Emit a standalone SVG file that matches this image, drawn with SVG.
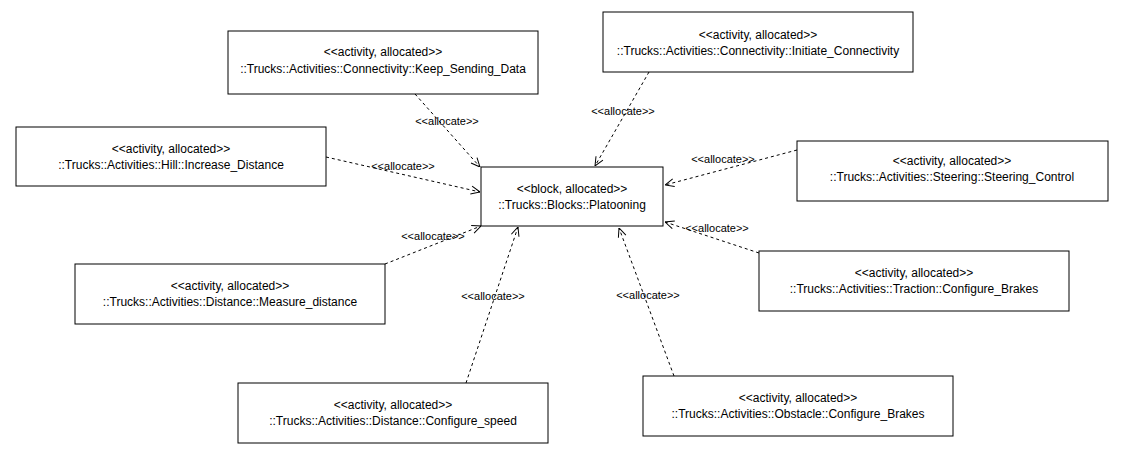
<svg xmlns="http://www.w3.org/2000/svg" width="1122" height="456" viewBox="0 0 1122 456">
<style>
.box{fill:#fff;stroke:#000;stroke-width:1}
.t{font-family:"Liberation Sans",Arial,sans-serif;font-size:12px;fill:#000;text-anchor:middle}
.lbl{font-family:"Liberation Sans",Arial,sans-serif;font-size:11px;fill:#000;text-anchor:middle}
.c{fill:none;stroke:#000;stroke-width:1;stroke-dasharray:3 3;marker-end:url(#arr)}
</style>
<defs>
<marker id="arr" viewBox="0 0 10 10" refX="10" refY="5" markerWidth="10" markerHeight="10" markerUnits="userSpaceOnUse" orient="auto">
<path d="M1,1 L10,5 L1,9" fill="none" stroke="#000" stroke-width="1"/>
</marker>
</defs>
<rect width="1122" height="456" fill="#fff"/>
<g id="connectors">
<path class="c" d="M415,94 L480,167"/>
<path class="c" d="M649,72 L595,166"/>
<path class="c" d="M326,157 L480,192"/>
<path class="c" d="M797,150 L665,185"/>
<path class="c" d="M385,264 L481,226"/>
<path class="c" d="M759,253 L665,222"/>
<path class="c" d="M466,383 L518,227"/>
<path class="c" d="M674,376 L619,228"/>
<text class="lbl" x="447" y="125">&lt;&lt;allocate&gt;&gt;</text>
<text class="lbl" x="623" y="115">&lt;&lt;allocate&gt;&gt;</text>
<text class="lbl" x="403" y="170">&lt;&lt;allocate&gt;&gt;</text>
<text class="lbl" x="723" y="163">&lt;&lt;allocate&gt;&gt;</text>
<text class="lbl" x="433" y="240">&lt;&lt;allocate&gt;&gt;</text>
<text class="lbl" x="717" y="232">&lt;&lt;allocate&gt;&gt;</text>
<text class="lbl" x="493" y="300">&lt;&lt;allocate&gt;&gt;</text>
<text class="lbl" x="648" y="299">&lt;&lt;allocate&gt;&gt;</text>
</g>
<g id="platooning">
<rect class="box" x="481" y="167" width="182" height="59"/>
<text class="t" x="572" y="193">&lt;&lt;block, allocated&gt;&gt;</text>
<text class="t" x="572" y="209">::Trucks::Blocks::Platooning</text>
</g>
<g id="keep-sending-data">
<rect class="box" x="228" y="31" width="310" height="63"/>
<text class="t" x="383" y="56">&lt;&lt;activity, allocated&gt;&gt;</text>
<text class="t" x="383" y="73">::Trucks::Activities::Connectivity::Keep_Sending_Data</text>
</g>
<g id="initiate-connectivity">
<rect class="box" x="603" y="12" width="310" height="60"/>
<text class="t" x="758" y="39">&lt;&lt;activity, allocated&gt;&gt;</text>
<text class="t" x="758" y="55">::Trucks::Activities::Connectivity::Initiate_Connectivity</text>
</g>
<g id="increase-distance">
<rect class="box" x="16" y="127" width="310" height="59"/>
<text class="t" x="171" y="153">&lt;&lt;activity, allocated&gt;&gt;</text>
<text class="t" x="171" y="169">::Trucks::Activities::Hill::Increase_Distance</text>
</g>
<g id="steering-control">
<rect class="box" x="797" y="141" width="311" height="60"/>
<text class="t" x="952" y="165">&lt;&lt;activity, allocated&gt;&gt;</text>
<text class="t" x="952" y="181">::Trucks::Activities::Steering::Steering_Control</text>
</g>
<g id="measure-distance">
<rect class="box" x="75" y="264" width="310" height="60"/>
<text class="t" x="230" y="290">&lt;&lt;activity, allocated&gt;&gt;</text>
<text class="t" x="230" y="306">::Trucks::Activities::Distance::Measure_distance</text>
</g>
<g id="traction-configure-brakes">
<rect class="box" x="759" y="251" width="310" height="60"/>
<text class="t" x="914" y="277">&lt;&lt;activity, allocated&gt;&gt;</text>
<text class="t" x="914" y="293">::Trucks::Activities::Traction::Configure_Brakes</text>
</g>
<g id="configure-speed">
<rect class="box" x="238" y="383" width="310" height="60"/>
<text class="t" x="393" y="409">&lt;&lt;activity, allocated&gt;&gt;</text>
<text class="t" x="393" y="425">::Trucks::Activities::Distance::Configure_speed</text>
</g>
<g id="obstacle-configure-brakes">
<rect class="box" x="643" y="376" width="310" height="60"/>
<text class="t" x="798" y="402">&lt;&lt;activity, allocated&gt;&gt;</text>
<text class="t" x="798" y="418">::Trucks::Activities::Obstacle::Configure_Brakes</text>
</g>
</svg>
